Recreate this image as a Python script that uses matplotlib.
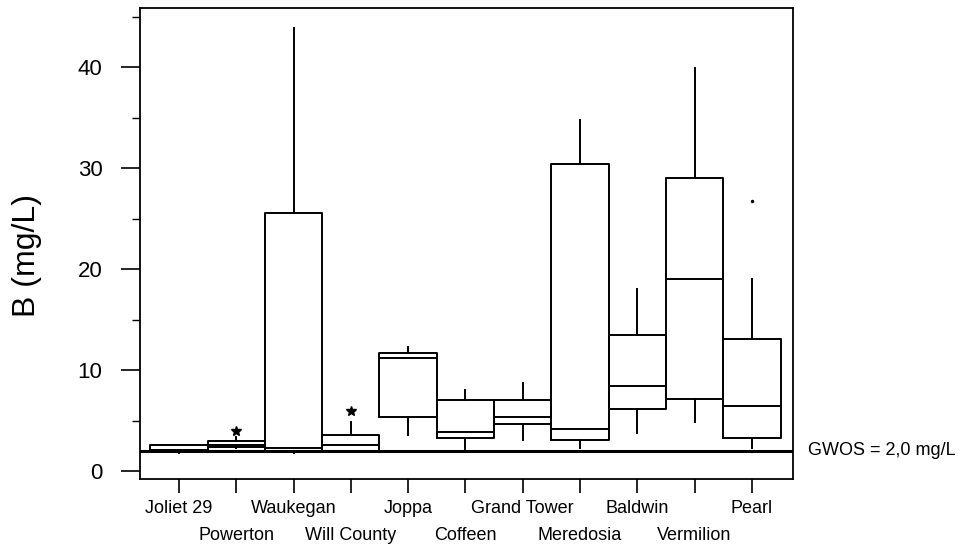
import matplotlib
matplotlib.use("Agg")
import matplotlib.pyplot as plt
from matplotlib.ticker import MultipleLocator

plt.rcParams['font.family'] = ['Liberation Sans', 'DejaVu Sans']

# boron concentrations by site (mg/L)
sites = ["Joliet 29", "Powerton", "Waukegan", "Will County", "Joppa", "Coffeen",
         "Grand Tower", "Meredosia", "Baldwin", "Vermilion", "Pearl"]
whislo = [1.8, 2.3, 1.8, 1.9, 3.6, 2.2, 3.1, 2.3, 3.8, 4.9, 2.3]
q1 = [1.9, 2.4, 1.9, 2.0, 5.3, 3.3, 4.7, 3.1, 6.1, 7.1, 3.3]
med = [2.1, 2.6, 2.3, 2.6, 11.2, 3.9, 5.3, 4.2, 8.4, 19.0, 6.4]
q3 = [2.6, 3.0, 25.6, 3.6, 11.7, 7.0, 7.0, 30.4, 13.5, 29.0, 13.1]
whishi = [2.6, 3.4, 43.9, 4.9, 12.3, 8.0, 8.7, 34.8, 18.0, 39.9, 19.0]
star_out = {"Powerton": [4.0], "Will County": [5.9]}
dot_out = {"Pearl": [26.7]}
gwos = 2.0

fig = plt.figure(figsize=(9.61, 5.5), dpi=100)
ax = fig.add_axes([0.1457, 0.129, 0.8253 - 0.1457, 0.986 - 0.129])

stats = []
for i in range(len(sites)):
    stats.append({"whislo": whislo[i], "q1": q1[i], "med": med[i],
                  "q3": q3[i], "whishi": whishi[i], "fliers": []})
pos = list(range(1, len(sites) + 1))
lw = 1.4
ax.bxp(stats, positions=pos, widths=1.0, showcaps=False, showfliers=False,
       boxprops=dict(color='black', linewidth=lw),
       medianprops=dict(color='black', linewidth=lw),
       whiskerprops=dict(color='black', linewidth=lw))

for name, vals in star_out.items():
    p = sites.index(name) + 1
    ax.plot([p] * len(vals), vals, linestyle='none', marker='*', ms=7,
            color='black')
for name, vals in dot_out.items():
    p = sites.index(name) + 1
    ax.plot([p] * len(vals), vals, linestyle='none', marker='.', ms=3,
            color='black')

ax.axhline(gwos, color='black', linewidth=2.2)
ax.text(1.023, gwos, "GWOS = 2,0 mg/L", transform=ax.get_yaxis_transform(),
        ha='left', va='center', fontsize=13)

ax.set_xlim(0.32, 11.72)
ax.set_ylim(-0.8, 45.9)
ax.yaxis.set_major_locator(MultipleLocator(10))
ax.yaxis.set_minor_locator(MultipleLocator(5))
ax.tick_params(axis='y', which='major', direction='out', length=14, width=1.2,
               labelsize=16, pad=13)
ax.tick_params(axis='y', which='minor', direction='out', length=6, width=1.0)

# site names staggered on two rows
ax.set_xticks(pos)
ax.set_xticklabels([])
ax.tick_params(axis='x', direction='out', length=10, width=1.2)
for i, s in enumerate(sites):
    yrow = -0.0615 if i % 2 == 0 else -0.119
    ax.text(pos[i], yrow, s, transform=ax.get_xaxis_transform(),
            ha='center', va='center', fontsize=13)

ax.set_ylabel("B (mg/L)", fontsize=23)
ax.yaxis.set_label_coords(-0.15, 0.475)

for s in ax.spines.values():
    s.set_linewidth(1.3)

fig.savefig("out.png", dpi=100)
